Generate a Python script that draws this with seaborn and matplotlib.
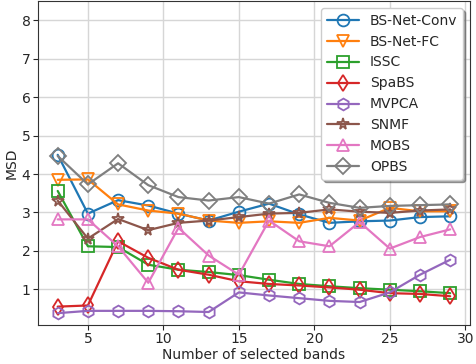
import matplotlib
matplotlib.use("Agg")
import matplotlib.pyplot as plt
import seaborn as sns
import numpy as np

bands = [3, 5, 7, 9, 11, 13, 15, 17, 19, 21, 23, 25, 27, 29]

bsnet_conv = [4.50, 2.97, 3.32, 3.18, 2.97, 2.79, 3.02, 3.23, 2.95, 2.73, 2.77, 2.79, 2.88, 2.90]
bsnet_fc = [3.85, 3.86, 3.21, 3.05, 2.97, 2.79, 2.73, 2.77, 2.73, 2.86, 2.79, 3.12, 3.03, 3.03]
issc = [3.56, 2.12, 2.10, 1.64, 1.51, 1.45, 1.37, 1.25, 1.14, 1.08, 1.03, 0.99, 0.95, 0.90]
spabs = [0.55, 0.58, 2.25, 1.82, 1.51, 1.38, 1.21, 1.14, 1.10, 1.05, 0.99, 0.90, 0.88, 0.82]
mvpca = [0.38, 0.44, 0.44, 0.44, 0.43, 0.41, 0.92, 0.84, 0.77, 0.70, 0.67, 0.92, 1.38, 1.77]
snmf = [3.31, 2.32, 2.83, 2.54, 2.73, 2.79, 2.88, 2.97, 2.99, 3.08, 3.02, 2.99, 3.05, 3.08]
mobs = [2.82, 2.82, 2.12, 1.17, 2.60, 1.88, 1.38, 2.79, 2.25, 2.12, 2.75, 2.06, 2.36, 2.56]
opbs = [4.47, 3.73, 4.28, 3.71, 3.40, 3.31, 3.40, 3.23, 3.47, 3.25, 3.12, 3.17, 3.19, 3.21]

series = [
    ("BS-Net-Conv", bsnet_conv, "o"),
    ("BS-Net-FC", bsnet_fc, "v"),
    ("ISSC", issc, "s"),
    ("SpaBS", spabs, "d"),
    ("MVPCA", mvpca, "h"),
    ("SNMF", snmf, "*"),
    ("MOBS", mobs, "^"),
    ("OPBS", opbs, "D"),
]
colors = sns.color_palette("tab10", 8)

sns.set_style("ticks")
plt.rcParams['font.family'] = ['DejaVu Sans']

fig, ax = plt.subplots(figsize=(4.76, 3.64), dpi=100)
for (name, vals, mk), c in zip(series, colors):
    sns.lineplot(x=bands, y=vals, ax=ax, label=name, color=c, marker=mk,
                 markersize=8.5, markerfacecolor="none", markeredgecolor=c,
                 markeredgewidth=1.3, linewidth=1.6)

ax.grid(True, color="#d6d6d6", linewidth=1)
ax.set_ylim(0.08, 8.5)
ax.set_yticks(range(1, 9))
ax.set_xticks([5, 10, 15, 20, 25, 30])
ax.set_xlabel("Number of selected bands", fontsize=10, labelpad=1.5)
ax.set_ylabel("MSD", fontsize=10, labelpad=2)
ax.tick_params(labelsize=10, length=3.5, pad=2)
for s in ax.spines.values():
    s.set_color("#333333")
ax.legend(loc="upper right", shadow=True, fontsize=10, handlelength=2.3,
          fancybox=True, framealpha=1)
fig.subplots_adjust(left=0.08, right=0.987, top=0.997, bottom=0.108)
fig.savefig("out.png")
